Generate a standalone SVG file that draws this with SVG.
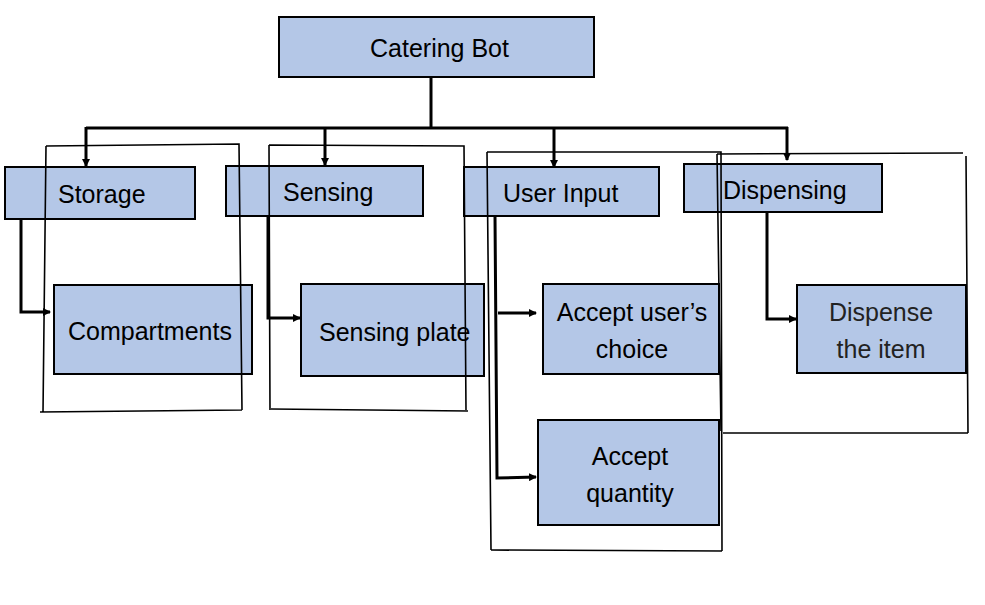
<svg xmlns="http://www.w3.org/2000/svg" width="985" height="605" viewBox="0 0 985 605">
<style>
.box{fill:#b4c7e7;stroke:#000;stroke-width:2}
.t{font-family:"Liberation Sans",Arial,sans-serif;font-size:25px;fill:#000}
.tl{font-family:"Liberation Sans",Arial,sans-serif;font-size:25px;fill:#222}
.frame{fill:none;stroke:#000;stroke-width:1.6}
.con{fill:none;stroke:#000;stroke-width:3}
</style>
<defs>
<marker id="ah" markerWidth="8" markerHeight="8" refX="7" refY="4" orient="auto" markerUnits="userSpaceOnUse">
<path d="M0,0 L8,4 L0,8 Z" fill="#000"/>
</marker>
</defs>
<rect width="985" height="605" fill="#fff"/>
<g id="catering-bot"><rect class="box" x="279" y="17" width="315" height="60"/><text class="t" x="370" y="57">Catering Bot</text></g>
<g id="storage"><rect class="box" x="5" y="167" width="190" height="52"/><text class="t" x="58" y="203">Storage</text></g>
<g id="sensing"><rect class="box" x="226" y="166" width="197" height="50"/><text class="t" x="283" y="201">Sensing</text></g>
<g id="user-input"><rect class="box" x="464" y="167" width="195" height="49"/><text class="t" x="503" y="202">User Input</text></g>
<g id="dispensing"><rect class="box" x="684" y="164" width="198" height="48"/><text class="t" x="723" y="199">Dispensing</text></g>
<g id="compartments"><rect class="box" x="54" y="285" width="198" height="89"/><text class="t" x="68" y="340">Compartments</text></g>
<g id="sensing-plate"><rect class="box" x="301" y="284" width="183" height="92"/><text class="t" x="319" y="341">Sensing plate</text></g>
<g id="accept-choice"><rect class="box" x="543" y="284" width="176" height="90"/><text class="t" text-anchor="middle" x="632" y="321">Accept user’s</text><text class="t" text-anchor="middle" x="632" y="358">choice</text></g>
<g id="accept-quantity"><rect class="box" x="538" y="420" width="181" height="105"/><text class="t" text-anchor="middle" x="630" y="465">Accept</text><text class="t" text-anchor="middle" x="630" y="502">quantity</text></g>
<g id="dispense-item"><rect class="box" x="797" y="285" width="169" height="88"/><text class="tl" text-anchor="middle" x="881" y="321">Dispense</text><text class="tl" text-anchor="middle" x="881" y="358">the item</text></g>
<g id="frames">
<path class="frame" d="M46,146 L239,144 L242,410 M40,412 L242,410 M46,146 L43,412"/>
<path class="frame" d="M269,145 L464,146 L466,410 M271,409 L468,411 M269,145 L270,410"/>
<path class="frame" d="M487,152 L721,152 L722,551 M491,550 L722,551 M487,152 L491,550"/>
<path class="frame" d="M717,154 L963,153 M966,156 L968,433 M723,433 L968,433 M717,154 L721,431"/>
</g>
<g id="connectors">
<path class="con" d="M431,77 L431,128"/>
<path class="con" d="M86,128 L788,128"/>
<path class="con" d="M86,127 L86,166" marker-end="url(#ah)"/>
<path class="con" d="M325,128 L325,165" marker-end="url(#ah)"/>
<path class="con" d="M554,128 L554,167" marker-end="url(#ah)"/>
<path class="con" d="M787,127 L787,160" marker-end="url(#ah)"/>
<path class="con" d="M21,219 L21,312 L50,312" marker-end="url(#ah)"/>
<path class="con" d="M268,216 L268,318 L300,318" marker-end="url(#ah)"/>
<path class="con" d="M495,216 L497,478 L536,477" marker-end="url(#ah)"/>
<path class="con" d="M498,313 L536,313" marker-end="url(#ah)"/>
<path class="con" d="M767,212 L767,319 L796,319" marker-end="url(#ah)"/>
</g>
</svg>
